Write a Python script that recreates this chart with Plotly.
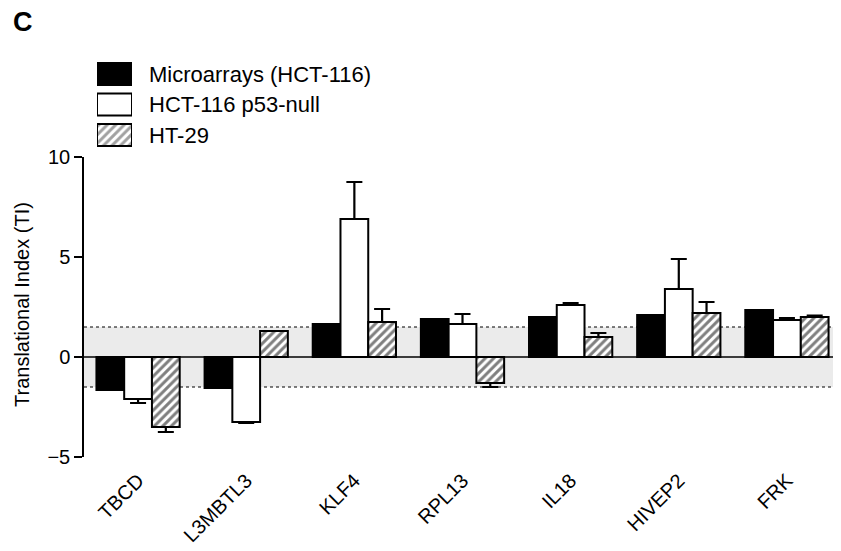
import plotly.graph_objects as go

genes = ["TBCD", "L3MBTL3", "KLF4", "RPL13", "IL18", "HIVEP2", "FRK"]
series_names = ["Microarrays (HCT-116)", "HCT-116 p53-null", "HT-29"]
micro = [-1.65, -1.55, 1.65, 1.9, 2.0, 2.1, 2.35]
micro_err = [0, 0, 0, 0, 0, 0, 0]
p53null = [-2.1, -3.25, 6.9, 1.65, 2.6, 3.4, 1.85]
p53null_err = [0.2, 0.05, 1.85, 0.5, 0.1, 1.5, 0.1]
ht29 = [-3.5, 1.3, 1.75, -1.3, 1.0, 2.2, 2.0]
ht29_err = [0.25, 0.0, 0.65, 0.2, 0.2, 0.55, 0.07]
yticks = [-5, 0, 5, 10]
band = 1.5

OFF = 8  # page body margin
W, H = 841 - OFF, 551 - OFF
ml, mr, mt, mb = 84 - OFF, 0, 12, (551 - 457)
ph = H - mt - mb

FONT = "Liberation Sans, Arial, sans-serif"

def fx(px):
    return (px - OFF - ml) / (W - ml - mr)

def fy(py):
    return (H - mb - (py - OFF)) / ph

main_top = fy(157)

fig = go.Figure()

def err(vals, e):
    plus = [ee if v >= 0 else 0 for v, ee in zip(vals, e)]
    minus = [ee if v < 0 else 0 for v, ee in zip(vals, e)]
    return dict(type="data", symmetric=False, array=plus, arrayminus=minus,
                color="black", thickness=2.2, width=8, visible=True)

HATCH = dict(shape="/", fgcolor="black", bgcolor="white", size=6, solidity=0.5)
styles = [
    dict(color="black", pattern=dict(shape="")),
    dict(color="white", pattern=dict(shape="")),
    dict(color="white", pattern=HATCH),
]
for name, vals, e, st in zip(series_names, [micro, p53null, ht29], [micro_err, p53null_err, ht29_err], styles):
    fig.add_trace(go.Bar(
        x=genes, y=vals, name=name, showlegend=False,
        marker=dict(color=st["color"], pattern=st["pattern"], line=dict(color="black", width=2)),
        error_y=err(vals, e) if any(e) else None,
    ))

# legend swatches on a small helper axis
fig.add_trace(go.Bar(
    x=[1, 1, 1], y=[0, 1, 2], orientation="h", base=0, width=0.72, showlegend=False,
    xaxis="x2", yaxis="y2", hoverinfo="skip",
    marker=dict(color=["black", "white", "white"],
                pattern=dict(shape=["", "", "/"], fgcolor="black", bgcolor="white", size=6, solidity=0.5),
                line=dict(color="black", width=2)),
))

rows_y = [74, 104, 135]
for nm, ry in zip(series_names, rows_y):
    fig.add_annotation(x=fx(147), y=fy(ry), xref="paper", yref="paper", text=nm,
                       showarrow=False, xanchor="left", yanchor="middle",
                       font=dict(family=FONT, size=22, color="black"))

fig.add_annotation(x=fx(23), y=fy(22), xref="paper", yref="paper", text="<b>C</b>",
                   showarrow=False, xanchor="center", yanchor="middle",
                   font=dict(family=FONT, size=27, color="black"))
fig.add_annotation(x=fx(10), y=fy(305), xref="paper", yref="paper", text="Translational Index (TI)",
                   showarrow=False, textangle=-90, xanchor="left", yanchor="middle", borderpad=0,
                   font=dict(family=FONT, size=20, color="black"))

# gray band and reference lines
fig.add_shape(type="rect", xref="x domain", yref="y", x0=0, x1=1, y0=-band, y1=band,
              fillcolor="#ebebeb", line=dict(width=0), layer="below")
for yv in [-band, band]:
    fig.add_shape(type="line", xref="x domain", yref="y", x0=0, x1=1, y0=yv, y1=yv,
                  line=dict(color="black", width=1.2, dash="dot"), layer="below")
fig.add_shape(type="line", xref="x domain", yref="y", x0=0, x1=1, y0=0, y1=0,
              line=dict(color="black", width=1.5), layer="above")

fig.update_layout(
    width=W, height=H, margin=dict(l=ml, r=mr, t=mt, b=mb),
    paper_bgcolor="white", plot_bgcolor="white",
    barmode="group", bargap=0.23, bargroupgap=0,
    font=dict(family=FONT, color="black"),
    xaxis=dict(domain=[0, 1], range=[-0.5, 6.5], showline=False, showgrid=False, zeroline=False,
               ticks="", tickangle=-45, tickfont=dict(size=20, family=FONT), ticklabelstandoff=7),
    yaxis=dict(domain=[0, main_top], range=[-5, 10], tickvals=yticks, showgrid=False, zeroline=False,
               showline=True, linecolor="black", linewidth=1.5, ticks="outside", ticklen=8,
               tickwidth=1.5, tickcolor="black", tickfont=dict(size=20, family=FONT)),
    xaxis2=dict(domain=[fx(97), fx(132)], range=[0, 1], anchor="y2", visible=False, fixedrange=True),
    yaxis2=dict(domain=[fy(rows_y[2] + 15.3), fy(rows_y[0] - 15.3)], range=[2.5, -0.5],
                anchor="x2", visible=False, fixedrange=True),
)

fig.write_html("out.html")
